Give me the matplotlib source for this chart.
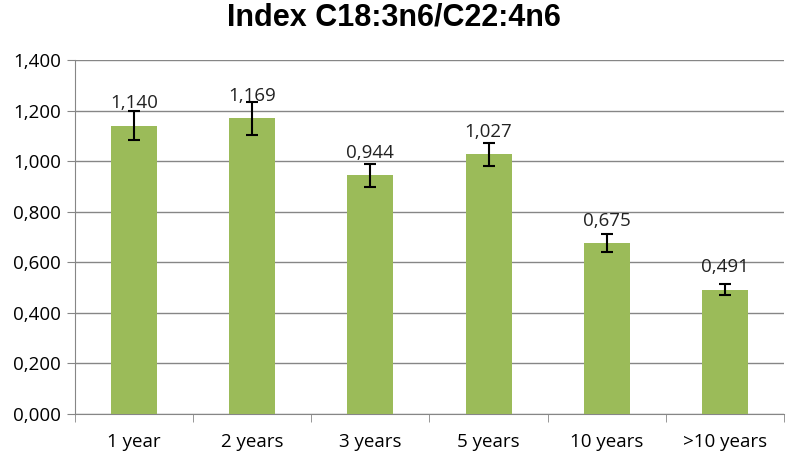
import matplotlib.pyplot as plt
import numpy as np

categories = ["1 year", "2 years", "3 years", "5 years", "10 years", ">10 years"]
values = [1.140, 1.169, 0.944, 1.027, 0.675, 0.491]
errors = [0.057, 0.064, 0.045, 0.045, 0.035, 0.022]
y_ticks = [0.0, 0.2, 0.4, 0.6, 0.8, 1.0, 1.2, 1.4]

BAR_COLOR = "#9bbb59"
GRID_COLOR = "#868686"

plt.rcParams["font.family"] = ["Open Sans", "DejaVu Sans"]

fig = plt.figure(figsize=(7.87, 4.55), dpi=100)
ax = fig.add_axes([75 / 787, 1 - 414 / 455, 709 / 787, 354 / 455])

x = np.arange(len(categories))
ax.bar(x, values, width=0.39, color=BAR_COLOR, zorder=3)
ax.errorbar(x, values, yerr=errors, fmt="none", ecolor="black",
            elinewidth=1.5, capsize=4, capthick=1.5, zorder=4)

# value labels sit just above the bar top, overlapping the error bar like Excel
for xi, v in zip(x, values):
    ax.annotate(f"{v:.3f}".replace(".", ","), xy=(xi, v), xytext=(0, 12.5),
                textcoords="offset points", ha="center", va="baseline",
                fontsize=13.5, color="#222222", zorder=5)

ax.set_xlim(-0.5, len(categories) - 0.5)
ax.set_ylim(0, 1.4)
ax.set_yticks(y_ticks)
ax.set_yticklabels([f"{t:.3f}".replace(".", ",") for t in y_ticks])
ax.set_xticks(x)
ax.set_xticklabels(categories)
ax.set_xticks(np.arange(len(categories) + 1) - 0.5, minor=True)

ax.grid(axis="y", color=GRID_COLOR, linewidth=1, zorder=0)
for side in ("top", "right"):
    ax.spines[side].set_visible(False)
for side in ("left", "bottom"):
    ax.spines[side].set_color(GRID_COLOR)
ax.tick_params(axis="y", length=6, color=GRID_COLOR, labelsize=13.5, pad=4)
ax.tick_params(axis="x", which="major", length=0, labelsize=13.5, pad=14)
ax.tick_params(axis="x", which="minor", length=6, color=GRID_COLOR)

fig.suptitle("Index C18:3n6/C22:4n6", x=0.5, y=0.995, fontsize=22,
             fontweight="bold", family="Liberation Sans")

fig.savefig("out.png", dpi=100)
